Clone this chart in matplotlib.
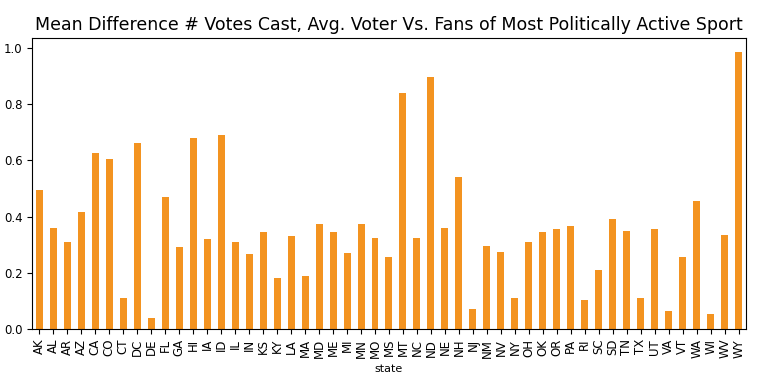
import numpy as np
import matplotlib.pyplot as plt
import pandas as pd

# states and mean difference values
states = ['AK', 'AL', 'AR', 'AZ', 'CA', 'CO', 'CT', 'DC', 'DE', 'FL', 'GA', 'HI', 'IA', 'ID',
          'IL', 'IN', 'KS', 'KY', 'LA', 'MA', 'MD', 'ME', 'MI', 'MN', 'MO', 'MS', 'MT', 'NC',
          'ND', 'NE', 'NH', 'NJ', 'NM', 'NV', 'NY', 'OH', 'OK', 'OR', 'PA', 'RI', 'SC', 'SD',
          'TN', 'TX', 'UT', 'VA', 'VT', 'WA', 'WI', 'WV', 'WY']
mean_diff = [0.495, 0.36, 0.31, 0.415, 0.625, 0.605, 0.11, 0.66, 0.04, 0.47, 0.29, 0.68, 0.32, 0.69,
             0.31, 0.265, 0.345, 0.18, 0.33, 0.19, 0.375, 0.345, 0.27, 0.375, 0.325, 0.255, 0.84, 0.325,
             0.895, 0.36, 0.54, 0.07, 0.295, 0.275, 0.11, 0.31, 0.345, 0.355, 0.365, 0.105, 0.21, 0.39,
             0.35, 0.11, 0.355, 0.065, 0.255, 0.455, 0.055, 0.335, 0.985]

s = pd.Series(mean_diff, index=pd.Index(states, name='state'))

fig, ax = plt.subplots(figsize=(7.68, 3.8), dpi=100)
fig.subplots_adjust(left=0.042, right=0.971, top=0.9, bottom=0.134)
s.plot(kind='bar', ax=ax, color='#f39320')

ax.set_title('Mean Difference # Votes Cast, Avg. Voter Vs. Fans of Most Politically Active Sport',
             fontsize=12.5)
ax.set_xlabel('state', fontsize=8)
ax.tick_params(axis='x', labelsize=8.5)
ax.tick_params(axis='y', labelsize=8.5)

plt.savefig('out.png')
